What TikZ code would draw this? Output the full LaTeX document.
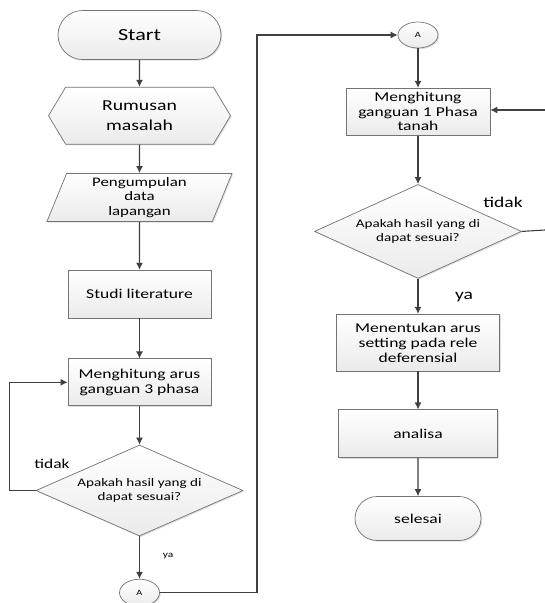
\documentclass[tikz,border=0pt]{standalone}
\usepackage{fontspec}
\setmainfont{Carlito}[FakeStretch=1.3]
\usetikzlibrary{arrows.meta,shapes,shadows,positioning}

\begin{document}
\begin{tikzpicture}[x=1pt,y=-1pt,>={Latex[length=7pt,width=7pt]}]
      \tikzstyle{shade}=[draw=black!55, line width=0.7pt, top color=white, bottom color=gray!16, drop shadow={opacity=0.25,shadow xshift=1.2pt,shadow yshift=-1.2pt}, align=center, inner sep=0pt, font=\fontsize{13.5}{14.5}\selectfont]
      \tikzstyle{rectblock}=[shade, rectangle]
      \tikzstyle{termblock}=[shade, rounded rectangle]
      \tikzstyle{decblock}=[shade, diamond, aspect=2.3, minimum width=207pt, font=\fontsize{11.6}{14}\selectfont]
      \tikzstyle{connblock}=[shade, ellipse, minimum width=40pt, minimum height=26pt, font=\fontsize{8}{9}\selectfont]
      \tikzstyle{flow}=[->, line width=1.1pt, draw=black!75]
      \tikzstyle{lbl}=[inner sep=0pt, font=\fontsize{13.5}{15}\selectfont]
      \useasboundingbox (0,0) rectangle (545,603);
      \node[termblock, minimum width=163pt, minimum height=49pt, font=\fontsize{17}{20}\selectfont] (START) at (139.5,35) {Start};
      \node[shade, signal, signal to=west and east, signal pointer angle=118, minimum width=182pt, minimum height=57pt, font=\fontsize{15.2}{20}\selectfont, below = 27pt of START] (RUMUSAN) {Rumusan\\masalah};
      \node[shade, trapezium, trapezium left angle=64, trapezium right angle=116, trapezium stretches body, minimum width=185pt, minimum height=48pt, font=\fontsize{13}{14.5}\selectfont, below = 28.5pt of RUMUSAN] (DATA) {Pengumpulan\\data\\lapangan};
      \node[rectblock, minimum width=143pt, minimum height=48pt, below = 48pt of DATA] (STUDI) {Studi literature};
      \node[rectblock, minimum width=143pt, minimum height=47pt, below = 40pt of STUDI] (HITUNG3) {Menghitung arus\\ganguan 3 phasa};
      \node[decblock, minimum height=91pt, below = 38.5pt of HITUNG3] (CEK1) {Apakah hasil yang di\\dapat sesuai?};
      \node[connblock, minimum height=27pt, below = 42.5pt of CEK1] (A1) {A};
      \node[connblock] (A2) at (418,35) {A};
      \node[rectblock, minimum width=144pt, minimum height=47pt, below = 39.5pt of A2] (HITUNG1) {Menghitung\\ganguan 1 Phasa\\tanah};
      \node[decblock, minimum height=94pt, below = 48.5pt of HITUNG1] (CEK2) {Apakah hasil yang di\\dapat sesuai?};
      \node[rectblock, minimum width=163pt, minimum height=57pt, font=\fontsize{13.5}{15}\selectfont, below = 35pt of CEK2] (RELE) {Menentukan arus\\setting pada rele\\deferensial};
      \node[rectblock, minimum width=159pt, minimum height=48pt, below = 38pt of RELE] (ANALISA) {analisa};
      \node[termblock, minimum width=126pt, minimum height=44pt, below = 38pt of ANALISA] (SELESAI) {selesai};
      \node[lbl] (TIDAK1) at (52,464) {tidak};
      \node[lbl, font=\fontsize{8.8}{10}\selectfont] (YA1) at (168,556) {ya};
      \node[lbl, font=\fontsize{15}{16}\selectfont] (TIDAK2) at (503,202) {tidak};
      \node[lbl, font=\fontsize{15}{16}\selectfont] (YA2) at (464,297) {ya};
      \coordinate (JUMP) at (257,35);
      \coordinate (EDGE1) at (545,230);
      \coordinate (EDGE2) at (545,110);
      \draw [flow] (START) -- (RUMUSAN);
      \draw [flow] (RUMUSAN) -- (DATA);
      \draw [flow] (DATA) -- (STUDI);
      \draw [flow] (STUDI) -- (HITUNG3);
      \draw [flow] (HITUNG3) -- (CEK1);
      \draw [flow] (CEK1) -- (A1);
      \draw [flow] (CEK1.west) -- ++(-26,0) |- (HITUNG3.west);
      \draw [flow] (A1.east) -| (JUMP) -- (A2.west);
      \draw [flow] (A2) -- (HITUNG1);
      \draw [flow] (HITUNG1) -- (CEK2);
      \draw [flow] (CEK2) -- (RELE);
      \draw [flow] (RELE) -- (ANALISA);
      \draw [flow] (ANALISA) -- (SELESAI);
      \draw [flow, -] (CEK2.east) -- (EDGE1);
      \draw [flow] (EDGE2) -- (EDGE2 -| HITUNG1.east);
    \end{tikzpicture}
\end{document}
